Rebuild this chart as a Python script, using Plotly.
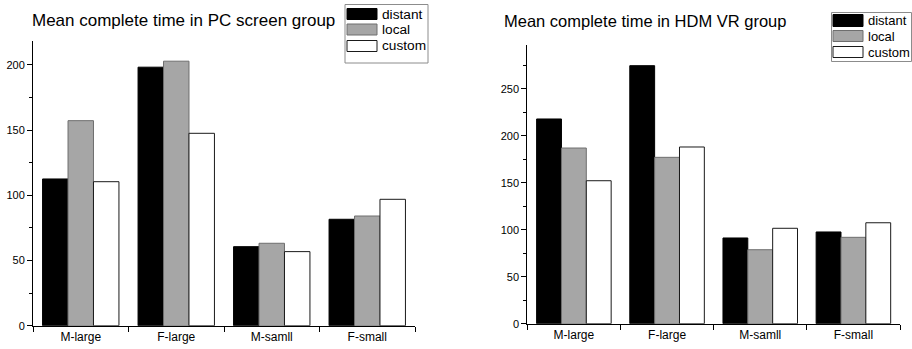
import plotly.graph_objects as go

categories = ["M-large", "F-large", "M-samll", "F-small"]
series_names = ["distant", "local", "custom"]

pc_distant = [112.5, 198.2, 60.6, 81.6]
pc_local = [157.2, 202.8, 63.2, 84.1]
pc_custom = [110.4, 147.5, 56.8, 96.9]

vr_distant = [217.8, 274.5, 91.2, 97.6]
vr_local = [186.9, 177.0, 78.7, 91.9]
vr_custom = [152.1, 188.0, 101.5, 107.4]

pc_title = "Mean complete time in PC screen group"
vr_title = "Mean complete time in HDM VR group"

fills = ["#000000", "#a6a6a6", "#ffffff"]
edges = ["#000000", "#6e6e6e", "#1a1a1a"]

W, H = 912, 349
FONT = "Liberation Sans, Arial, sans-serif"

fig = go.Figure()

for name, vals, fc, ec in zip(series_names, [pc_distant, pc_local, pc_custom], fills, edges):
    fig.add_trace(go.Bar(x=categories, y=vals, name=name, marker=dict(color=fc, line=dict(color=ec, width=1)),
                         xaxis="x", yaxis="y", showlegend=False))
for name, vals, fc, ec in zip(series_names, [vr_distant, vr_local, vr_custom], fills, edges):
    fig.add_trace(go.Bar(x=categories, y=vals, name=name, marker=dict(color=fc, line=dict(color=ec, width=1)),
                         xaxis="x2", yaxis="y2", showlegend=False))

common_x = dict(type="category", tickson="boundaries", ticks="outside", ticklen=5, tickcolor="#000",
                showline=True, linecolor="#000", linewidth=1, showgrid=False, zeroline=False,
                automargin=False,
                tickfont=dict(family=FONT, size=12, color="#000"))
common_y = dict(ticks="outside", ticklen=5, tickcolor="#000", dtick=50, tick0=0,
                showline=True, linecolor="#000", linewidth=1, showgrid=False, zeroline=False,
                automargin=False,
                tickfont=dict(family=FONT, size=11, color="#000"),
                minor=dict(dtick=25, ticks="outside", ticklen=3, tickcolor="#000", showgrid=False))


def px(x):
    return x / W


def py(y):
    return 1 - y / H


shapes = []
annotations = [
    dict(text=pc_title, x=px(29.5), y=py(20.5), xref="paper", yref="paper", xanchor="left",
         yanchor="middle", showarrow=False, font=dict(family=FONT, size=17, color="#000")),
    dict(text=vr_title, x=px(502), y=py(21.5), xref="paper", yref="paper", xanchor="left",
         yanchor="middle", showarrow=False, font=dict(family=FONT, size=16.5, color="#000")),
]

# custom legend boxes (Origin-style wide swatches)
legend_specs = [
    dict(box=(345, 4.5, 428, 63), sw_x=(347, 377), rows=[(8.5, 19.5), (24, 35), (40.5, 51.5)],
         text_x=379.5, fsize=13.7),
    dict(box=(831.5, 12.5, 911.5, 61.5), sw_x=(833, 863), rows=[(14.5, 26.5), (30.5, 41.5), (46.5, 57.5)],
         text_x=865.5, fsize=13),
]
for spec in legend_specs:
    x0, y0, x1, y1 = spec["box"]
    shapes.append(dict(type="rect", xref="paper", yref="paper", x0=px(x0), x1=px(x1), y0=py(y1), y1=py(y0),
                       line=dict(color="#8c8c8c", width=1), fillcolor="white", layer="above"))
    for name, fc, ec, (r0, r1) in zip(series_names, fills, edges, spec["rows"]):
        shapes.append(dict(type="rect", xref="paper", yref="paper", x0=px(spec["sw_x"][0]), x1=px(spec["sw_x"][1]),
                           y0=py(r1), y1=py(r0), line=dict(color=ec, width=1), fillcolor=fc, layer="above"))
        annotations.append(dict(text=name, x=px(spec["text_x"]), y=py((r0 + r1) / 2), xref="paper", yref="paper",
                                xanchor="left", yanchor="middle", showarrow=False,
                                font=dict(family=FONT, size=spec["fsize"], color="#000")))

fig.update_layout(
    width=W, height=H,
    margin=dict(l=0, r=0, t=0, b=0, pad=0, autoexpand=False),
    paper_bgcolor="white", plot_bgcolor="white",
    barmode="group", bargap=0.2, bargroupgap=0,
    xaxis=dict(domain=[px(33), px(415)], anchor="y", **common_x),
    yaxis=dict(domain=[py(325.7), py(40.7)], anchor="x", range=[0, 218.5], **common_y),
    xaxis2=dict(domain=[px(527.3), px(900)], anchor="y2", **common_x),
    yaxis2=dict(domain=[py(323.7), py(45)], anchor="x2", range=[0, 296.5], **common_y),
    shapes=shapes,
    annotations=annotations,
    showlegend=False,
)

fig.write_html("out.html", config={"displayModeBar": False},
               post_script="document.body.style.margin='0';document.body.style.overflow='hidden';")
